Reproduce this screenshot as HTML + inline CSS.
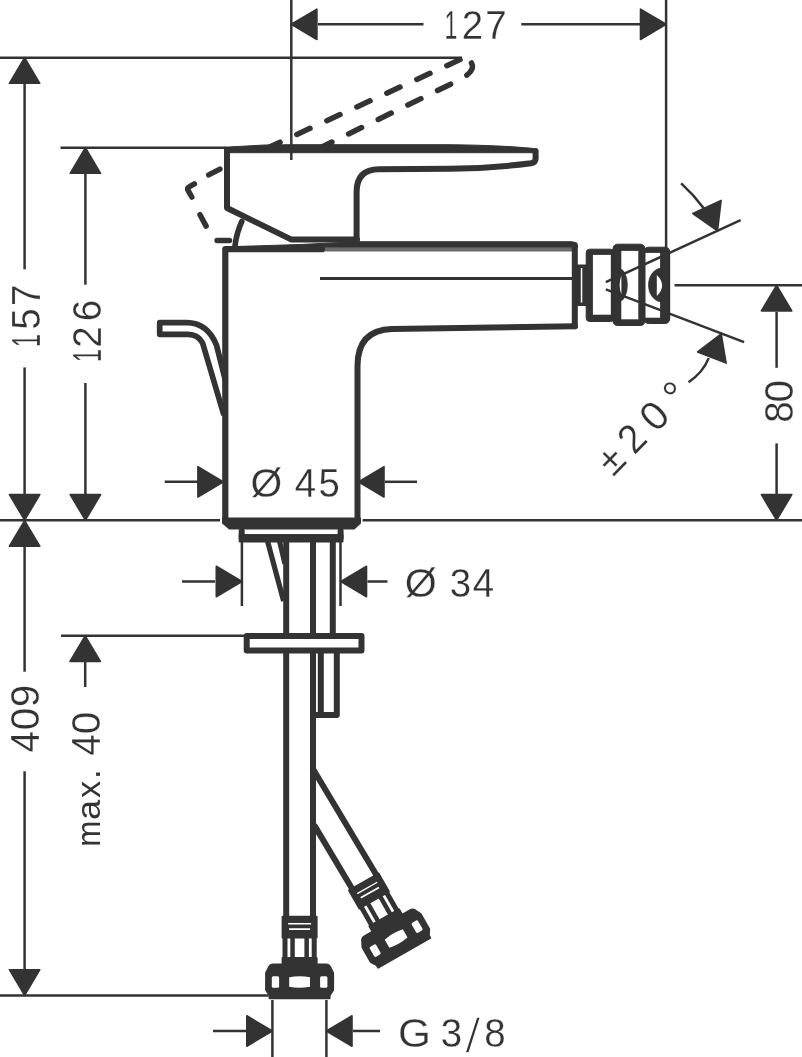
<!DOCTYPE html>
<html lang="en">
<head>
<meta charset="utf-8">
<title>Bidet mixer – dimensional drawing</title>
<style>
  html, body { margin: 0; padding: 0; background: #ffffff; }
  body { width: 802px; height: 1057px; overflow: hidden; }
  svg { display: block; }
  .thin { fill: none; stroke: #333333; stroke-width: 2.5; }
  .b6   { fill: none; stroke: #333333; stroke-width: 6; stroke-linejoin: round; stroke-linecap: round; }
  .b5   { fill: none; stroke: #333333; stroke-width: 5; stroke-linejoin: round; stroke-linecap: round; }
  .b4   { fill: none; stroke: #333333; stroke-width: 4; stroke-linejoin: round; stroke-linecap: round; }
  .b3   { fill: none; stroke: #333333; stroke-width: 3; stroke-linejoin: round; stroke-linecap: butt; }
  .dash { fill: none; stroke: #333333; stroke-width: 5.5; stroke-linecap: round; stroke-linejoin: round; }
  .sol  { fill: #333333; stroke: #333333; stroke-width: 2; stroke-linejoin: round; }
  .win  { fill: #ffffff; stroke: none; }
  .arr  { fill: #333333; stroke: #333333; stroke-width: 1.6; stroke-linejoin: round; }
  text  { font-family: "Liberation Sans", sans-serif; font-size: 40.5px; fill: #333333;
          stroke: #ffffff; stroke-width: 0.25px; paint-order: fill stroke; }
</style>
</head>
<body>
<svg width="802" height="1057" viewBox="0 0 802 1057">
<rect width="802" height="1057" fill="#ffffff"/>

<g id="labels" opacity="0.999">
<text transform="translate(447.5 38.8) scale(0.95 1)" x="-3.19 14.96 39.7" y="0"><tspan textLength="13.51" lengthAdjust="spacingAndGlyphs">1</tspan>27</text>
<text transform="translate(252 497) scale(0.95 1)" x="-1.48 31.91 45.11 70.01" y="0"><tspan textLength="33.39" lengthAdjust="spacingAndGlyphs">Ø</tspan> 45</text>
<text transform="translate(406.2 596.9) scale(0.95 1)" x="-1.54 32.17 45.9 70.06" y="0"><tspan textLength="33.71" lengthAdjust="spacingAndGlyphs">Ø</tspan> 34</text>
<text transform="translate(400 1046.9) scale(0.95 1)" x="-2.09 32.56 42.85 68.18 88.7" y="0"><tspan textLength="34.65" lengthAdjust="spacingAndGlyphs">G</tspan> 3<tspan textLength="16.88" lengthAdjust="spacingAndGlyphs" font-size="50.62" dy="6.5" style="stroke-width:1.7px">/</tspan><tspan dy="-6.5">8</tspan></text>
<text transform="translate(39.6 343.8) rotate(-90) scale(0.95 1)" x="-3.4 14.8 39.91" y="0"><tspan textLength="13.51" lengthAdjust="spacingAndGlyphs">1</tspan>57</text>
<text transform="translate(100.5 358.8) rotate(-90) scale(0.95 1)" x="-3.29 11.64 39.65" y="0"><tspan textLength="13.51" lengthAdjust="spacingAndGlyphs">1</tspan>26</text>
<text transform="translate(38.7 752.7) rotate(-90) scale(0.95 1)" x="0.32 23.77 47.92" y="0">4<tspan textLength="23.65" lengthAdjust="spacingAndGlyphs">0</tspan><tspan textLength="23.65" lengthAdjust="spacingAndGlyphs">9</tspan></text>
<text transform="translate(100.2 844.5) rotate(-90) scale(0.95 1)" x="-2.3 25.67 48.96 68.91 79.04 93.48 116.19" y="0"><tspan textLength="27.49" lengthAdjust="spacingAndGlyphs" font-size="34.02" stroke="none">m</tspan><tspan textLength="21.19" lengthAdjust="spacingAndGlyphs" font-size="34.02" stroke="none">a</tspan><tspan textLength="18.03" lengthAdjust="spacingAndGlyphs" font-size="34.02" stroke="none">x</tspan><tspan font-size="36.45" stroke="none">.</tspan> 4<tspan textLength="23.65" lengthAdjust="spacingAndGlyphs">0</tspan></text>
<text transform="translate(793 421.8) rotate(-90) scale(0.95 1)" x="-1.09 20.29" y="0">8<tspan textLength="23.65" lengthAdjust="spacingAndGlyphs">0</tspan></text>
<text transform="translate(620.7 469.7) rotate(-45.5) scale(0.95 1)" x="-11.15 20.43 53.45 77.1 88.4" y="0">±2<tspan textLength="23.65" lengthAdjust="spacingAndGlyphs">0</tspan> <tspan font-size="45.36" dy="3.5">°</tspan></text>
</g>
<g id="dims">
<path class="thin" d="M0 57.7L462 57.7"/>
<path class="thin" d="M60.5 147.7L226 147.7"/>
<path class="thin" d="M291.3 0L291.3 160"/>
<path class="thin" d="M666.1 0L666.1 250"/>
<path class="thin" d="M0 520.2L220 520.2"/>
<path class="thin" d="M362.6 520.2L802 520.2"/>
<path class="thin" d="M674.5 285.3L802 285.3"/>
<path class="thin" d="M61 635.8L244 635.8"/>
<path class="thin" d="M0 995.4L268.5 995.4"/>
<path class="thin" d="M241.9 542L241.9 606"/>
<path class="thin" d="M340.5 542L340.5 606"/>
<path class="thin" d="M272.4 1000L272.4 1057"/>
<path class="thin" d="M326.4 1000L326.4 1057"/>
<path class="thin" d="M318 24.3L423.5 24.3"/>
<path class="thin" d="M521.3 24.3L640 24.3"/>
<path class="thin" d="M24.6 84L24.6 269.3"/>
<path class="thin" d="M24.6 367.4L24.6 494"/>
<path class="thin" d="M85.4 174L85.4 284.7"/>
<path class="thin" d="M85.4 383L85.4 494"/>
<path class="thin" d="M24.6 547L24.6 671.7"/>
<path class="thin" d="M24.6 771.3L24.6 969"/>
<path class="thin" d="M85.2 662L85.2 687"/>
<path class="thin" d="M776.6 312L776.6 367.8"/>
<path class="thin" d="M776.6 443.4L776.6 494"/>
<path class="thin" d="M164.7 481.8L198 481.8"/>
<path class="thin" d="M385 481.8L417 481.8"/>
<path class="thin" d="M182 581.5L215 581.5"/>
<path class="thin" d="M367.5 581.5L387.5 581.5"/>
<path class="thin" d="M213 1031L246 1031"/>
<path class="thin" d="M353 1031L380 1031"/>
<path class="thin" d="M605.8 282.2L740.6 220.2"/>
<path class="thin" d="M605.8 289.4L744.1 342.1"/>
<path class="arr" d="M291.3 24.3L316.9 9.1L316.9 39.5Z"/>
<path class="arr" d="M666.1 24.3L640.5 9.1L640.5 39.5Z"/>
<path class="arr" d="M24.6 57.7L9.4 83.3L39.8 83.3Z"/>
<path class="arr" d="M24.6 520.2L9.4 494.6L39.8 494.6Z"/>
<path class="arr" d="M85.4 147.7L70.2 173.3L100.6 173.3Z"/>
<path class="arr" d="M85.4 520.2L70.2 494.6L100.6 494.6Z"/>
<path class="arr" d="M24.6 520.6L9.4 546.2L39.8 546.2Z"/>
<path class="arr" d="M24.6 995.3L9.4 969.7L39.8 969.7Z"/>
<path class="arr" d="M85.2 635.8L70 661.4L100.4 661.4Z"/>
<path class="arr" d="M776.6 285.3L761.4 310.9L791.8 310.9Z"/>
<path class="arr" d="M776.6 520.2L761.4 494.6L791.8 494.6Z"/>
<path class="arr" d="M223.5 481.9L197.9 466.7L197.9 497.1Z"/>
<path class="arr" d="M358.4 481.9L384 466.7L384 497.1Z"/>
<path class="arr" d="M241.9 581.5L216.3 566.3L216.3 596.7Z"/>
<path class="arr" d="M340.9 581.5L366.5 566.3L366.5 596.7Z"/>
<path class="arr" d="M272.4 1031L246.8 1015.8L246.8 1046.2Z"/>
<path class="arr" d="M326.4 1031L352 1015.8L352 1046.2Z"/>
<path class="thin" d="M681.2 183.4Q694 195 704.3 209"/>
<path class="arr" d="M717.5 230.8L692.8 213.5L721.1 200.4Z"/>
<path class="thin" d="M708.7 358.1Q703 372.500 688.500 382.200"/>
<path class="arr" d="M721.2 333.8L697.6 352L726.1 363.1Z"/>
</g>
<g id="faucet">
<path class="dash" stroke-dasharray="14.5 18.5" d="M460 59.6L264.6 149.2"/>
<path class="dash" stroke-dasharray="14.5 18.5" d="M471.5 63Q476 70 462 78.6L318 148.8"/>
<path class="dash" d="M208.7 174.9L219.9 169.1M194.4 183.9L189.5 186.6Q186.8 188 188.2 190.7L191.8 197M200 214.7L206.1 226.1M217.1 240.5H229.5"/>
<path class="sol" style="stroke-width:1" d="M224.5 147.2L265 145L290 144.7H450Q500 145.2 532 148.3Q536 148.8 537.5 151V152.7H224.5Z"/>
<path class="b6" d="M227 150V208L291 239.4H357"/>
<path class="b6" d="M535.6 151V158.5Q535.6 162.5 531 163.300Q490 168.5 450 168.800L379 169.300Q356.6 169.5 356.6 192V240"/>
<path class="b5" style="stroke-width:5.6" d="M241.800 221.500Q236.500 233 235 246"/>
<path class="sol" style="stroke-width:1" d="M236 246.5L300 244.5L345 242.3L357 241.700H571Q577.4 241.700 577.4 247.500H236Z"/>
<rect x="320" y="247.4" width="253" height="4.100" fill="#6b6b6b"/>
<path class="b6" style="stroke-width:6.2" d="M225.300 521V249.200H322"/>
<path class="b6" d="M357.5 521V366Q357.5 330 392 329L575 326.3"/>
<path class="b6" d="M574.8 245V326.3"/>
<path class="b3" d="M320 278.5H573"/>
<path class="sol" d="M223 518.500H360V523L354 528.500H229.500L223 523Z"/>
<path class="b6" d="M241.700 531V538H340.600V531"/>
<path class="sol" style="stroke-width:1" d="M239.200 534.600H343V542H239.200Z"/>
<path class="b6" style="stroke-width:5.700" d="M225.300 380L216.600 345.500Q207.500 322.700 186.500 322.700H159.700V334.300H188Q198 334.300 202.600 343L223.500 413.700"/>
<path class="sol" style="stroke-width:1" d="M577 265H587.5V305.500H577Z"/>
<rect class="win" x="580.8" y="268" width="1.5" height="34.5"/>
<rect class="sol" style="stroke-width:1" x="586.2" y="249.200" width="28" height="72.300" rx="3.5"/>
<rect class="sol" style="stroke-width:1" x="613" y="244.200" width="32" height="81.300" rx="4.5"/>
<rect class="sol" style="stroke-width:1" x="644" y="247.200" width="25.700" height="76.300" rx="4.5"/>
<rect class="win" x="592.9" y="254.900" width="17.900" height="59.800"/>
<rect class="win" x="620.8" y="250.900" width="18" height="68.400"/>
<rect class="win" x="645" y="252.900" width="15.700" height="64.800"/>
<path class="thin" d="M605.8 282.2L667 254"/>
<path class="thin" d="M605.8 289.4L667 312.700"/>
<path class="sol" style="stroke-width:1" d="M613 249H620.8V321H613ZM638.9 251H645V319H638.9ZM660.7 252H669.3V319H660.7Z"/>
<path class="sol" style="stroke-width:0.6" d="M620 269A7.400 16 0 0 1 620 301Z"/>
<path class="win" d="M621.4 275.500Q617.800 285.200 621.400 294.500Z"/>
<path class="sol" style="stroke-width:0.6" d="M662 268A13.600 17 0 0 0 662 302Z"/>
<path class="win" d="M656.8 275L656.800 296Q667.500 285.500 656.800 275Z"/>
<path class="b5" style="stroke-width:5.2;stroke-linecap:butt" d="M267.500 541L283.600 601M279.500 541L285 564"/>
<path class="b6" d="M286.2 541V918M313 541V918"/>
<path class="b6" d="M332.8 541V634"/>
<rect class="b6" style="fill:#ffffff" x="246.700" y="636" width="114.800" height="14.400"/>
<path class="b6" d="M320.8 652V715H336.8V652M314 715H321"/>
<path class="b6" d="M313 769L378.500 878.500M314.800 826.100L353.500 891"/>
<g transform="translate(299.6 982)">
<path class="sol" d="M-17 -65.200H17V-44.5H-17Z"/>
<path class="win" d="M-11.5 -59H11.500V-57.600H-11.500ZM-10.5 -53.800H10.500V-52.100H-10.500Z"/>
<path class="b5" d="M-14.6 -44V-19M14.600 -44V-19"/>
<path class="b4" style="stroke-width:4.5;stroke-linecap:butt" d="M-7.050 -44V-19M7.050 -44V-19"/>
<path class="sol" d="M-17 -24H17V-17H-17Z"/>
<path class="sol" d="M-26 -17.600H26Q30 -17.600 31 -14L33.5 -9V8L30 13.500V16.300H-30V13.500L-33.500 8V-9L-31 -14Q-30 -17.600 -26 -17.600Z"/>
<rect class="win" x="-27.8" y="-5.700" width="7.3" height="11.500" rx="1.5"/>
<path class="win" d="M-10.400 -4.700Q0 -6.700 10.400 -4.700V4.700Q0 6.700 -10.400 4.700Z"/>
<rect class="win" x="20.500" y="-5.700" width="7.3" height="11.500" rx="1.5"/>
</g>
<g transform="translate(396.1 938.6) rotate(-29.7)">
<path class="sol" d="M-17 -65.200H17V-44.5H-17Z"/>
<path class="win" d="M-11.5 -59H11.500V-57.600H-11.500ZM-10.5 -53.800H10.500V-52.100H-10.500Z"/>
<path class="b5" d="M-14.6 -44V-19M14.600 -44V-19"/>
<path class="b4" style="stroke-width:4.5;stroke-linecap:butt" d="M-7.050 -44V-19M7.050 -44V-19"/>
<path class="sol" d="M-17 -24H17V-17H-17Z"/>
<path class="sol" d="M-26 -17.600H26Q30 -17.600 31 -14L33.5 -9V8L30 13.500V16.300H-30V13.500L-33.500 8V-9L-31 -14Q-30 -17.600 -26 -17.600Z"/>
<rect class="win" x="-27.8" y="-5.700" width="7.3" height="11.500" rx="1.5"/>
<path class="win" d="M-10.400 -4.700Q0 -6.700 10.400 -4.700V4.700Q0 6.700 -10.400 4.700Z"/>
<rect class="win" x="20.500" y="-5.700" width="7.3" height="11.500" rx="1.5"/>
</g>
</g>
</svg>
</body>
</html>
